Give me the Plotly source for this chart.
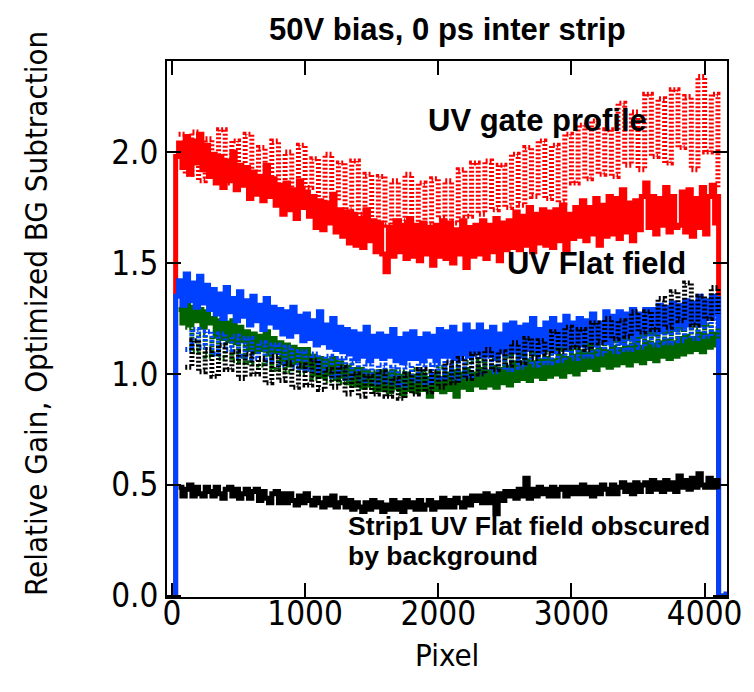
import plotly.graph_objects as go

# ---- data ----
# gate-profile (dotted) traces: sampled every 50 pixels
PIXEL = list(range(50, 4101, 50))
# flat-field (solid) traces: sampled every 25 pixels
PIXEL_FINE = list(range(50, 4101, 25))

RED_GATE = [2.08, 1.90, 2.09, 1.87, 2.06, 1.89, 2.10, 1.86, 2.05, 1.90,
            2.08, 1.82, 2.02, 1.84, 2.05, 1.83, 2.00, 1.80, 2.03, 1.84,
            1.97, 1.77, 1.99, 1.78, 1.95, 1.74, 1.96, 1.72, 1.90, 1.68,
            1.89, 1.67, 1.87, 1.69, 1.90, 1.66, 1.86, 1.67, 1.88, 1.70,
            1.87, 1.68, 1.92, 1.71, 1.95, 1.72, 1.96, 1.74, 1.94, 1.75,
            1.99, 1.76, 2.02, 1.80, 2.05, 1.79, 2.03, 1.77, 2.08, 1.86,
            2.12, 1.88, 2.14, 1.90, 2.10, 1.89, 2.22, 1.94, 2.18, 1.92,
            2.26, 1.98, 2.24, 1.95, 2.28, 2.02, 2.25, 1.92, 2.34, 2.00,
            2.26, 1.84]

BLACK_GATE = [1.12, 1.03, 1.15, 1.01, 1.11, 0.99, 1.13, 1.02, 1.10, 0.98,
              1.09, 1.00, 1.07, 0.96, 1.08, 0.97, 1.05, 0.94, 1.04, 0.95,
              1.06, 0.93, 1.02, 0.94, 1.03, 0.91, 1.00, 0.90, 0.99, 0.91,
              1.01, 0.90, 0.98, 0.89, 1.00, 0.91, 1.02, 0.92, 1.01, 0.94,
              1.05, 0.96, 1.07, 0.98, 1.09, 1.00, 1.11, 1.02, 1.10, 1.04,
              1.14, 1.05, 1.16, 1.07, 1.15, 1.09, 1.19, 1.10, 1.21, 1.12,
              1.20, 1.11, 1.23, 1.14, 1.25, 1.16, 1.24, 1.17, 1.28, 1.19,
              1.28, 1.20, 1.34, 1.21, 1.37, 1.24, 1.41, 1.22, 1.35, 1.25,
              1.39, 1.27]

BLUE_GATE = [1.18, 1.11, 1.20, 1.12, 1.19, 1.09, 1.18, 1.11, 1.17, 1.08,
             1.16, 1.07, 1.14, 1.06, 1.13, 1.04, 1.12, 1.03, 1.10, 1.02,
             1.09, 1.01, 1.08, 0.99, 1.07, 0.98, 1.06, 0.97, 1.05, 0.96,
             1.04, 0.96, 1.03, 0.95, 1.04, 0.97, 1.05, 0.96, 1.04, 0.98,
             1.06, 0.98, 1.07, 0.99, 1.08, 1.00, 1.08, 1.01, 1.09, 1.02,
             1.10, 1.03, 1.11, 1.04, 1.12, 1.05, 1.13, 1.06, 1.14, 1.07,
             1.15, 1.08, 1.16, 1.09, 1.17, 1.10, 1.18, 1.11, 1.19, 1.12,
             1.20, 1.13, 1.21, 1.14, 1.22, 1.15, 1.23, 1.16, 1.24, 1.17,
             1.25, 1.19]

GREEN_GATE = [1.14, 1.21, 1.10, 1.18, 1.08, 1.17, 1.07, 1.15, 1.06, 1.14,
              1.05, 1.13, 1.04, 1.11, 1.02, 1.10, 1.01, 1.08, 1.00, 1.07,
              0.98, 1.06, 0.97, 1.05, 0.96, 1.04, 0.95, 1.02, 0.94, 1.01,
              0.94, 1.01, 0.93, 1.01, 0.94, 1.02, 0.94, 1.01, 0.95, 1.03,
              0.96, 1.04, 0.97, 1.05, 0.98, 1.06, 0.99, 1.07, 1.00, 1.08,
              1.01, 1.09, 1.02, 1.09, 1.03, 1.10, 1.04, 1.11, 1.05, 1.12,
              1.06, 1.13, 1.07, 1.14, 1.08, 1.15, 1.09, 1.16, 1.10, 1.17,
              1.11, 1.18, 1.12, 1.19, 1.13, 1.20, 1.14, 1.21, 1.15, 1.22,
              1.16, 1.21]

RED_FLAT = [2.04, 1.93, 2.07, 1.90, 2.05, 1.95, 2.08, 1.92, 2.03, 1.89,
            1.99, 1.86, 1.98, 1.84, 1.96, 1.87, 2.00, 1.83, 1.94, 1.85,
            1.93, 1.79, 1.91, 1.81, 1.89, 1.78, 1.94, 1.80, 1.88, 1.76,
            1.85, 1.72, 1.86, 1.74, 1.83, 1.70, 1.87, 1.75, 1.82, 1.71,
            1.80, 1.66, 1.78, 1.65, 1.77, 1.68, 1.81, 1.64, 1.74, 1.62,
            1.73, 1.59, 1.72, 1.58, 1.70, 1.57, 1.74, 1.60, 1.69, 1.55,
            1.68, 1.54, 1.46, 1.66, 1.53, 1.69, 1.55, 1.67, 1.52, 1.70,
            1.53, 1.67, 1.51, 1.68, 1.54, 1.66, 1.49, 1.67, 1.53, 1.69,
            1.52, 1.68, 1.50, 1.65, 1.54, 1.69, 1.48, 1.66, 1.53, 1.67,
            1.54, 1.69, 1.52, 1.67, 1.55, 1.70, 1.51, 1.68, 1.56, 1.69,
            1.57, 1.73, 1.56, 1.71, 1.58, 1.75, 1.55, 1.72, 1.59, 1.74,
            1.58, 1.73, 1.57, 1.74, 1.60, 1.76, 1.56, 1.72, 1.61, 1.75,
            1.62, 1.78, 1.60, 1.75, 1.63, 1.79, 1.58, 1.76, 1.62, 1.80,
            1.63, 1.79, 1.61, 1.83, 1.64, 1.77, 1.60, 1.78, 1.65, 1.80,
            1.86, 1.66, 1.80, 1.63, 1.79, 1.67, 1.84, 1.64, 1.80, 1.66,
            1.67, 1.82, 1.64, 1.83, 1.62, 1.79, 1.66, 1.84, 1.63, 1.80,
            1.85, 1.68, 1.80]

BLUE_FLAT = [1.42, 1.31, 1.45, 1.33, 1.41, 1.30, 1.44, 1.32, 1.40, 1.29,
             1.38, 1.27, 1.36, 1.25, 1.39, 1.28, 1.34, 1.24, 1.37, 1.26,
             1.33, 1.22, 1.35, 1.24, 1.31, 1.20, 1.34, 1.23, 1.30, 1.21,
             1.29, 1.18, 1.28, 1.17, 1.30, 1.19, 1.26, 1.15, 1.27, 1.16,
             1.24, 1.13, 1.28, 1.14, 1.22, 1.12, 1.25, 1.11, 1.21, 1.10,
             1.20, 1.09, 1.19, 1.07, 1.18, 1.08, 1.21, 1.06, 1.17, 1.08,
             1.18, 1.07, 1.17, 1.08, 1.20, 1.06, 1.16, 1.05, 1.18, 1.07,
             1.19, 1.07, 1.16, 1.06, 1.18, 1.08, 1.17, 1.06, 1.20, 1.08,
             1.19, 1.08, 1.21, 1.07, 1.18, 1.09, 1.22, 1.08, 1.19, 1.10,
             1.22, 1.08, 1.19, 1.09, 1.21, 1.07, 1.18, 1.10, 1.22, 1.09,
             1.23, 1.10, 1.21, 1.08, 1.22, 1.11, 1.25, 1.09, 1.20, 1.10,
             1.23, 1.11, 1.25, 1.10, 1.22, 1.12, 1.26, 1.11, 1.23, 1.13,
             1.25, 1.13, 1.24, 1.12, 1.27, 1.13, 1.23, 1.14, 1.28, 1.14,
             1.26, 1.15, 1.28, 1.14, 1.27, 1.16, 1.29, 1.15, 1.27, 1.17,
             1.29, 1.18, 1.29, 1.18, 1.31, 1.19, 1.30, 1.19, 1.32, 1.20,
             1.31, 1.21, 1.33, 1.22, 1.32, 1.23, 1.35, 1.22, 1.33, 1.25,
             1.35, 1.27, 1.34]

GREEN_FLAT = [1.29, 1.23, 1.31, 1.22, 1.30, 1.24, 1.29, 1.21, 1.28, 1.23,
              1.25, 1.17, 1.24, 1.16, 1.23, 1.15, 1.24, 1.14, 1.21, 1.15,
              1.19, 1.11, 1.18, 1.10, 1.17, 1.11, 1.19, 1.09, 1.16, 1.10,
              1.14, 1.05, 1.13, 1.04, 1.12, 1.05, 1.11, 1.03, 1.11, 1.04,
              1.08, 1.00, 1.07, 0.99, 1.06, 1.00, 1.07, 0.98, 1.05, 0.99,
              1.03, 0.96, 1.02, 0.95, 1.02, 0.94, 1.01, 0.95, 1.00, 0.93,
              1.01, 0.93, 1.00, 0.92, 1.01, 0.94, 0.99, 0.91, 1.00, 0.93,
              0.99, 0.92, 1.00, 0.93, 0.98, 0.90, 0.99, 0.93, 0.98, 0.92,
              1.00, 0.93, 1.01, 0.90, 1.00, 0.94, 1.02, 0.93, 1.00, 0.95,
              1.02, 0.94, 1.01, 0.95, 1.03, 0.94, 1.02, 0.96, 1.03, 0.95,
              1.05, 0.97, 1.04, 0.98, 1.06, 0.97, 1.05, 0.99, 1.06, 0.98,
              1.07, 0.99, 1.06, 1.00, 1.08, 0.99, 1.07, 1.01, 1.08, 1.00,
              1.10, 1.02, 1.09, 1.03, 1.10, 1.02, 1.11, 1.04, 1.10, 1.03,
              1.12, 1.04, 1.11, 1.05, 1.12, 1.04, 1.13, 1.06, 1.12, 1.05,
              1.14, 1.07, 1.13, 1.06, 1.14, 1.08, 1.15, 1.07, 1.14, 1.08,
              1.16, 1.09, 1.17, 1.10, 1.16, 1.11, 1.18, 1.10, 1.17, 1.12,
              1.18, 1.13, 1.17]

BLACK_FLAT = [0.49, 0.45, 0.48, 0.50, 0.45, 0.49, 0.46, 0.45, 0.49, 0.47,
              0.45, 0.49, 0.46, 0.44, 0.48, 0.49, 0.45, 0.48, 0.44, 0.46,
              0.48, 0.44, 0.47, 0.48, 0.43, 0.47, 0.44, 0.42, 0.46, 0.47,
              0.42, 0.46, 0.42, 0.46, 0.43, 0.41, 0.45, 0.42, 0.46, 0.43,
              0.41, 0.44, 0.42, 0.40, 0.44, 0.41, 0.45, 0.40, 0.42, 0.44,
              0.40, 0.43, 0.39, 0.42, 0.40, 0.38, 0.42, 0.39, 0.43, 0.40,
              0.42, 0.38, 0.41, 0.39, 0.43, 0.39, 0.42, 0.38, 0.43, 0.40,
              0.42, 0.39, 0.43, 0.39, 0.41, 0.43, 0.39, 0.42, 0.40, 0.44,
              0.40, 0.43, 0.40, 0.44, 0.42, 0.40, 0.44, 0.41, 0.45, 0.43,
              0.45, 0.42, 0.46, 0.42, 0.45, 0.37, 0.46, 0.43, 0.47, 0.45,
              0.47, 0.44, 0.48, 0.45, 0.53, 0.44, 0.48, 0.45, 0.49, 0.46,
              0.48, 0.45, 0.49, 0.45, 0.48, 0.49, 0.45, 0.49, 0.46, 0.49,
              0.46, 0.50, 0.46, 0.49, 0.45, 0.49, 0.46, 0.50, 0.48, 0.46,
              0.50, 0.46, 0.49, 0.51, 0.47, 0.50, 0.46, 0.51, 0.47, 0.50,
              0.51, 0.47, 0.52, 0.48, 0.51, 0.47, 0.52, 0.48, 0.51, 0.47,
              0.54, 0.49, 0.52, 0.48, 0.53, 0.49, 0.55, 0.50, 0.49, 0.53,
              0.49, 0.52, 0.48]

# edge points of the flat-field traces (rise at left, drop at right)
EDGE_LEFT_X = [10, 28]
EDGE_RIGHT_X = [4105, 4160]
RED_LEFT_Y = [0.0, 1.98]
RED_RIGHT_Y = [0.0, 0.0]
BLUE_LEFT_Y = [0.0, 1.35]
BLUE_RIGHT_Y = [0.0, 0.02]

X_TICKS = [0, 1000, 2000, 3000, 4000]
Y_TICKS = [0.0, 0.5, 1.0, 1.5, 2.0]

TITLE = "50V bias, 0 ps inter strip"
X_TITLE = "Pixel"
Y_TITLE = "Relative Gain, Optimized BG Subtraction"

TICK_FONT = "Liberation Sans Narrow, DejaVu Sans Condensed, Arial Narrow, sans-serif"
BOLD_FONT = "Liberation Sans, Arial, sans-serif"

fig = go.Figure()


def add(x, y, color, width, dash="solid"):
    fig.add_trace(go.Scatter(x=x, y=y, mode="lines", line_shape="hv",
                             line=dict(color=color, width=width, dash=dash),
                             showlegend=False, hoverinfo="skip"))


DOT = "2px,2px"
add(PIXEL, RED_GATE, "#ff0000", 5, DOT)
add(EDGE_LEFT_X + PIXEL_FINE + EDGE_RIGHT_X, RED_LEFT_Y + RED_FLAT + RED_RIGHT_Y, "#ff0000", 5)
add(PIXEL_FINE, GREEN_FLAT, "#006400", 5)
add(EDGE_LEFT_X + PIXEL_FINE + EDGE_RIGHT_X, BLUE_LEFT_Y + BLUE_FLAT + BLUE_RIGHT_Y, "#0040ff", 5)
add(PIXEL[1:], GREEN_GATE[1:], "#006400", 5, DOT)
add(PIXEL[1:], BLUE_GATE[1:], "#0040ff", 5, DOT)
add(PIXEL[1:], BLACK_GATE[1:], "#000000", 5, DOT)
add(PIXEL_FINE, BLACK_FLAT, "#000000", 5)

axis_common = dict(showgrid=False, zeroline=False, showline=True, linecolor="black",
                   linewidth=2, mirror="allticks", ticks="inside", ticklen=14,
                   tickwidth=1.5, tickcolor="black", ticklabeloverflow="allow",
                   tickfont=dict(family=TICK_FONT, size=33, color="black"))

fig.update_xaxes(range=[-37, 4168], tickvals=X_TICKS, ticklabelstandoff=-14, **axis_common)
fig.update_yaxes(range=[-0.005, 2.41], tickvals=Y_TICKS, tickformat=".1f", **axis_common)

fig.add_annotation(text="<b>" + TITLE + "</b>", xref="paper", yref="paper", x=0.5, y=1.058,
                   xanchor="center", yanchor="middle", showarrow=False,
                   font=dict(family=BOLD_FONT, size=31, color="black"))
fig.add_annotation(text=X_TITLE, xref="paper", yref="paper", x=0.5, y=-0.108,
                   xanchor="center", yanchor="middle", showarrow=False,
                   font=dict(family=TICK_FONT, size=31, color="black"))
fig.add_annotation(text=Y_TITLE, xref="paper", yref="paper", x=-0.234, y=0.53,
                   xanchor="center", yanchor="middle", showarrow=False, textangle=-90,
                   font=dict(family=TICK_FONT, size=31, color="black"))

fig.add_annotation(text="<b>UV gate profile</b>", x=1905, y=2.14, xanchor="left",
                   yanchor="middle", showarrow=False,
                   font=dict(family=BOLD_FONT, size=31, color="black"))
fig.add_annotation(text="<b>UV Flat field</b>", x=2498, y=1.497, xanchor="left",
                   yanchor="middle", showarrow=False,
                   font=dict(family=BOLD_FONT, size=31, color="black"))
fig.add_annotation(text="<b>Strip1 UV Flat field obscured</b>", x=1304, y=0.315,
                   xanchor="left", yanchor="middle", showarrow=False,
                   font=dict(family=BOLD_FONT, size=26.5, color="black"))
fig.add_annotation(text="<b>by background</b>", x=1304, y=0.18, xanchor="left",
                   yanchor="middle", showarrow=False,
                   font=dict(family=BOLD_FONT, size=26.5, color="black"))

fig.update_layout(width=754, height=692, margin=dict(l=167, r=13, t=61, b=95),
                  paper_bgcolor="white", plot_bgcolor="white")

fig.write_html("out.html")
